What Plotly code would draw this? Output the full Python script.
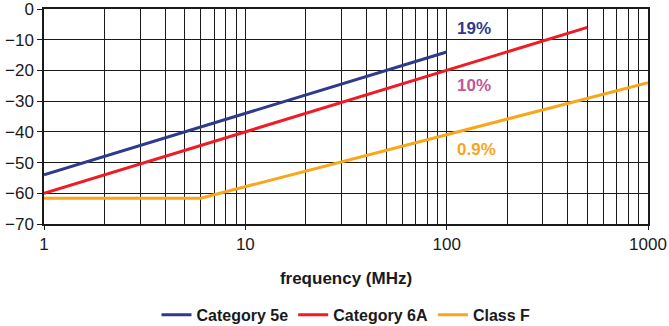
import math
import plotly.graph_objects as go

cat5e_f = [1, 100]
cat5e_db = [-54, -14]
cat6a_f = [1, 500]
cat6a_db = [-60, -6]
classf_f = [1, 6, 1000]
classf_db = [-61.6, -61.6, -24]

labels = ["19%", "10%", "0.9%"]
label_f = [110, 110, 110]
label_db = [-6.5, -24.8, -45.6]
label_colors = ["#2E3A8C", "#C2579B", "#F7A51C"]

x_ticks = [1, 10, 100, 1000]
y_ticks = list(range(-70, 1, 10))

FONT = "Liberation Sans, Arial, sans-serif"
INK = "#1a1a1a"

fig = go.Figure()
fig.add_trace(go.Scatter(x=cat5e_f, y=cat5e_db, mode="lines", name="<b>Category 5e</b>",
                         line=dict(color="#2E3A8C", width=3)))
fig.add_trace(go.Scatter(x=cat6a_f, y=cat6a_db, mode="lines", name="<b>Category 6A</b>",
                         line=dict(color="#EE1C25", width=3)))
fig.add_trace(go.Scatter(x=classf_f, y=classf_db, mode="lines", name="<b>Class F</b>",
                         line=dict(color="#F9A61A", width=3)))

for t, f, d, c in zip(labels, label_f, label_db, label_colors):
    fig.add_annotation(x=math.log10(f), y=d, xref="x", yref="y", text="<b>%s</b>" % t,
                       showarrow=False, xanchor="left", yanchor="middle",
                       font=dict(color=c, size=17, family=FONT))

fig.update_xaxes(type="log", range=[0, 3], tickvals=x_ticks,
                 ticktext=[str(v) for v in x_ticks], automargin=False,
                 ticklabeloverflow="allow",
                 showgrid=True, gridcolor=INK, gridwidth=1,
                 ticks="outside", ticklen=4, tickcolor=INK,
                 minor=dict(dtick="D1", showgrid=True, gridcolor=INK, gridwidth=1, ticks=""),
                 showline=True, linecolor=INK, linewidth=1.5, mirror=True,
                 zeroline=False,
                 tickfont=dict(size=17, color=INK, family=FONT),
                 title=dict(text="<b>frequency (MHz)</b>", font=dict(size=17, color=INK, family=FONT), standoff=19))
fig.update_yaxes(range=[-70, 0], tickvals=y_ticks, automargin=False,
                 ticklabeloverflow="allow",
                 showgrid=True, gridcolor=INK, gridwidth=1,
                 ticks="outside", ticklen=5, tickcolor=INK,
                 showline=True, linecolor=INK, linewidth=1.5, mirror=True,
                 zeroline=False, tickfont=dict(size=17, color=INK, family=FONT))

fig.update_layout(
    width=669, height=326,
    margin=dict(l=44, r=21, t=9, b=102),
    paper_bgcolor="white", plot_bgcolor="white",
    font=dict(family=FONT, color=INK),
    showlegend=True,
    legend=dict(orientation="h", x=0.5, xanchor="center", yref="container",
                y=0.034, yanchor="middle",
                font=dict(size=16, color=INK, family=FONT), itemwidth=30, tracegroupgap=0,
                bgcolor="rgba(0,0,0,0)"),
)

fig.write_html("out.html", config={"displayModeBar": False},
               post_script="document.body.style.margin='0';document.body.style.overflow='hidden';")
